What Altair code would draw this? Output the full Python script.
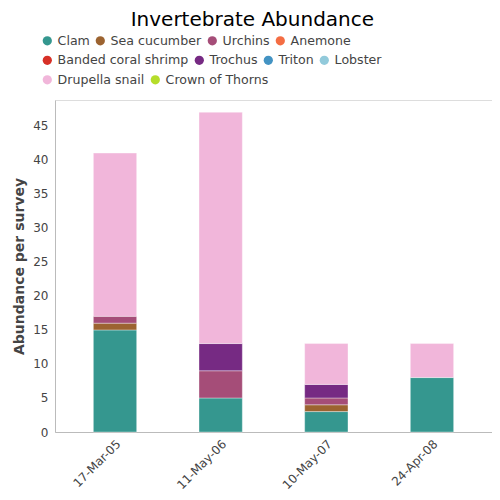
import altair as alt
import pandas as pd

surveys = ["17-Mar-05", "11-May-06", "10-May-07", "24-Apr-08"]
species = ["Clam", "Sea cucumber", "Urchins", "Anemone", "Banded coral shrimp",
           "Trochus", "Triton", "Lobster", "Drupella snail", "Crown of Thorns"]
colors = ["#35978f", "#9c6330", "#a54d78", "#f46d43", "#d73027",
          "#762a83", "#4393c3", "#92cadb", "#f1b6da", "#b5dd2a"]

clam = [15, 5, 3, 8]
sea_cucumber = [1, 0, 1, 0]
urchins = [1, 4, 1, 0]
anemone = [0, 0, 0, 0]
banded_coral_shrimp = [0, 0, 0, 0]
trochus = [0, 4, 2, 0]
triton = [0, 0, 0, 0]
lobster = [0, 0, 0, 0]
drupella_snail = [24, 34, 6, 5]
crown_of_thorns = [0, 0, 0, 0]

series = [clam, sea_cucumber, urchins, anemone, banded_coral_shrimp,
          trochus, triton, lobster, drupella_snail, crown_of_thorns]

# legend rows (as laid out in the reference)
legend_rows = [species[0:4], species[4:8], species[8:10]]
legend_y = [-65.5, -46, -26.5]

rows = []
for si, (name, vals) in enumerate(zip(species, series)):
    for s, v in zip(surveys, vals):
        rows.append({"survey": s, "species": name, "value": v, "order": si})
df = pd.DataFrame(rows)

base = alt.Chart(df).transform_stack(
    stack="value", groupby=["survey"], as_=["y0", "y1"],
    sort=[alt.SortField("order", order="ascending")]
).transform_filter("datum.value > 0").mark_bar(
    stroke="white", strokeWidth=0.6, strokeOpacity=0.6
).encode(
    x=alt.X("survey:N", sort=surveys, title=None,
            scale=alt.Scale(paddingInner=0.59, paddingOuter=0.363),
            axis=alt.Axis(labelAngle=-45, labelFontSize=12, labelColor="#444",
                          ticks=False, domainColor="#bbb", labelPadding=6,
                          labelFont="DejaVu Sans")),
    y=alt.Y("y0:Q", title="Abundance per survey",
            scale=alt.Scale(domain=[0, 48.8], nice=False),
            axis=alt.Axis(values=[0, 5, 10, 15, 20, 25, 30, 35, 40, 45], grid=False,
                          ticks=False, domainColor="#bbb", labelFontSize=12,
                          labelColor="#444", titleFontSize=14, titleColor="#444",
                          titleFont="DejaVu Sans", labelFont="DejaVu Sans",
                          titleFontWeight="bold", labelPadding=7, titlePadding=6)),
    y2="y1:Q",
)

layers = []
for names, ly in zip(legend_rows, legend_y):
    cols = [colors[species.index(n)] for n in names]
    layers.append(
        base.transform_filter(alt.FieldOneOfPredicate(field="species", oneOf=names)).encode(
            color=alt.Color("species:N", sort=names,
                            scale=alt.Scale(domain=names, range=cols),
                            legend=alt.Legend(orient="none", legendX=-14, legendY=ly,
                                              direction="horizontal", title=None,
                                              symbolType="circle", symbolSize=85,
                                              symbolStrokeWidth=0, symbolOpacity=1,
                                              labelFontSize=12.6, labelColor="#444",
                                              labelFont="DejaVu Sans",
                                              columnPadding=4, padding=0,
                                              labelOffset=4, labelLimit=300))
        )
    )

chart = alt.layer(*layers).resolve_scale(color="independent").properties(
    width=437, height=332,
    title=alt.TitleParams("Invertebrate Abundance", fontSize=20, font="DejaVu Sans",
                          fontWeight="normal", color="#000", anchor="middle",
                          frame="bounds", offset=4.5),
).configure_view(stroke=None).configure(
    padding={"left": 4, "top": 2, "right": 0, "bottom": 2})

chart.save("out.html", embed_options={"renderer": "svg", "actions": False})
